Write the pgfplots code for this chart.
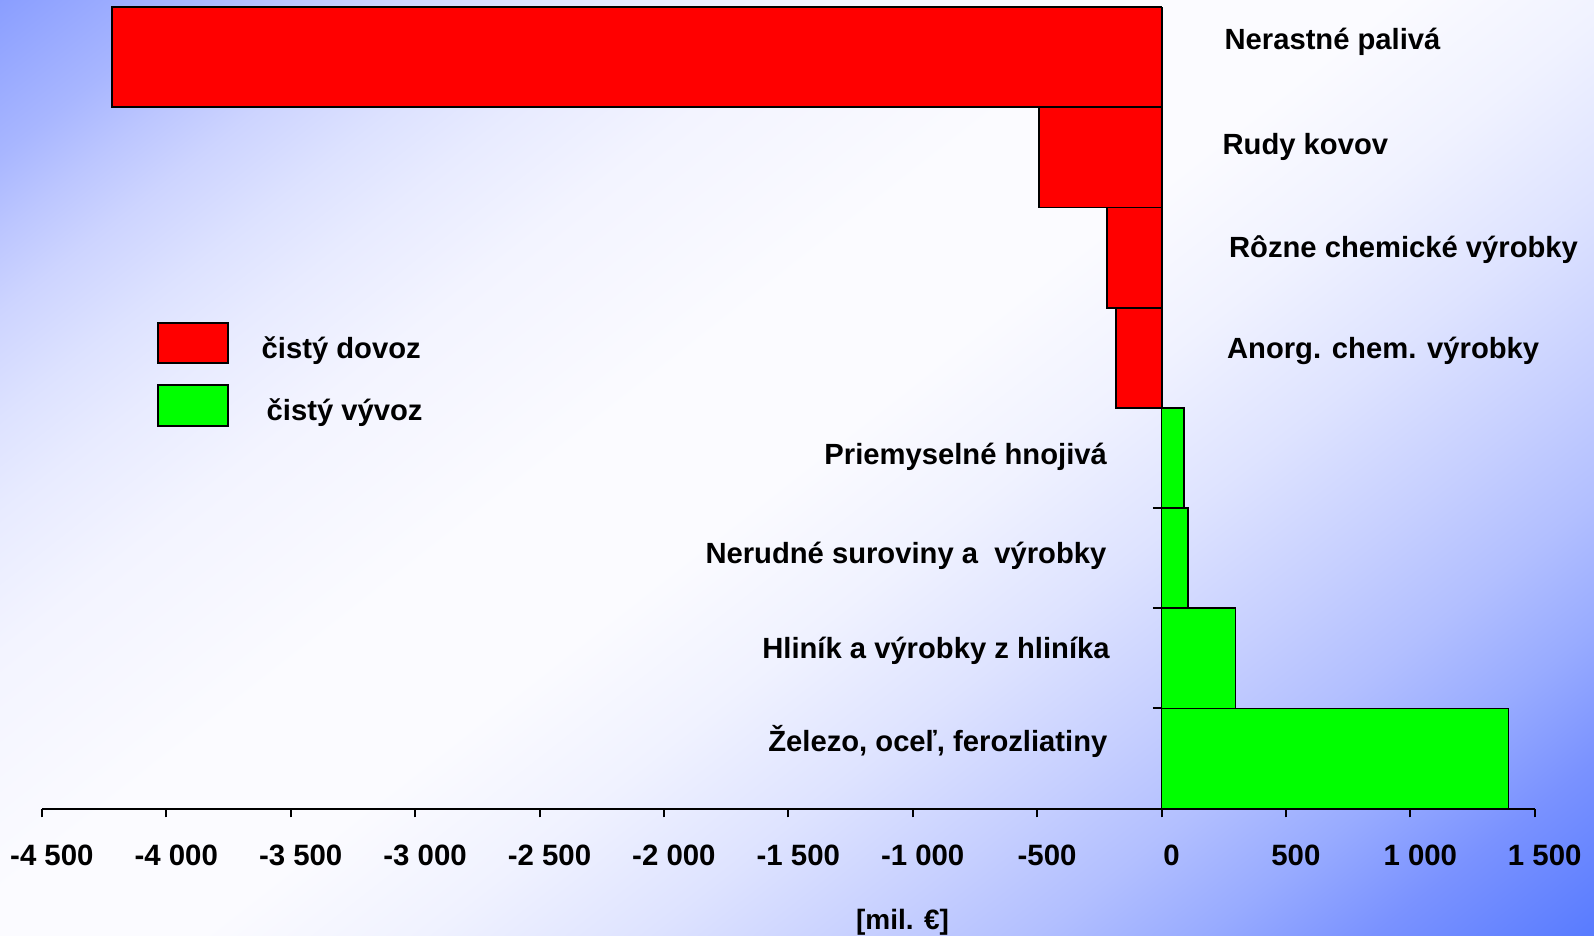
\documentclass[border=0pt]{standalone}
\usepackage{fontspec}
\setmainfont{Liberation Sans}
\usepackage{graphicx}
\usepackage{pgfplots}
\pgfplotsset{compat=1.18}
\definecolor{g0}{RGB}{138,158,255}
\definecolor{g1}{RGB}{168,182,255}
\definecolor{g2}{RGB}{188,198,255}
\definecolor{g3}{RGB}{205,212,255}
\definecolor{g4}{RGB}{221,226,255}
\definecolor{g5}{RGB}{232,235,255}
\definecolor{g6}{RGB}{243,244,255}
\definecolor{g7}{RGB}{251,251,255}
\definecolor{g8}{RGB}{240,242,255}
\definecolor{g9}{RGB}{222,227,255}
\definecolor{g10}{RGB}{198,207,255}
\definecolor{g11}{RGB}{178,191,255}
\definecolor{g12}{RGB}{152,171,255}
\definecolor{g13}{RGB}{122,146,255}
\definecolor{g14}{RGB}{88,123,255}
\pgfdeclareverticalshading{bgshade}{100bp}{color(0bp)=(g14); color(25bp)=(g14); color(29bp)=(g13); color(32bp)=(g12); color(35bp)=(g11); color(38bp)=(g10); color(42bp)=(g9); color(46bp)=(g8); color(50bp)=(g7); color(54.4bp)=(g7); color(60bp)=(g6); color(63.2bp)=(g5); color(65.4bp)=(g4); color(67.85bp)=(g3); color(69.65bp)=(g2); color(71.45bp)=(g1); color(75bp)=(g0); color(100bp)=(g0)}
\definecolor{barred}{RGB}{255,0,0}
\definecolor{bargreen}{RGB}{0,255,0}
\newcommand\f{\fontsize{14.6pt}{17.5pt}\selectfont\bfseries}
\newcommand\ft{\fontsize{14.7pt}{17.6pt}\selectfont\bfseries}
\newcommand\fl{\fontsize{14pt}{16.8pt}\selectfont\bfseries}
\begin{document}
\begin{tikzpicture}
\path[use as bounding box] (0,0) rectangle (797pt,468pt);
\begin{scope}
\clip (0,0) rectangle (797pt,468pt);
\begin{scope}[transform canvas={shift={(398.5pt,234pt)}, rotate=38}]
\shade[shading=bgshade] (-900pt,-429.75pt) rectangle (900pt,429.75pt);
\end{scope}
\end{scope}
\clip (0,0) rectangle (797pt,468pt);
\begin{axis}[
  at={(20.95pt,63.65pt)}, anchor=south west,
  scale only axis, width=746.4pt, height=400.85pt,
  xmin=-4500, xmax=1500, ymin=0.5, ymax=8.5,
  enlargelimits=false,
  axis x line=bottom, axis y line=center,
  axis line style={-, line width=1pt, black},
  xtick={-4500,-4000,...,1500},
  xticklabels={-4 500,-4 000,-3 500,-3 000,-2 500,-2 000,-1 500,-1 000,-500,0,500,1 000,1 500},
  xtick align=outside, major tick length=4.3pt,
  tick style={line width=1pt, black},
  xticklabel style={font=\ft, anchor=base, yshift=-23.9pt, xshift=5pt},
  ytick={1.5,2.5,3.5}, yticklabels={},
  ytick align=outside,
  xlabel={[mil. €]},
  xlabel style={font=\fl, at={(axis description cs:0.5765,-0.1501)}, anchor=base},
  xbar, bar width=1, bar shift=0pt,
  clip=false,
  legend style={at={(axis description cs:0.0769,0.6075)}, anchor=north west,
    draw=none, fill=none, inner sep=0pt, outer sep=0pt,
    row sep=10pt, column sep=16.2pt, font=\f,
    nodes={inner sep=0pt, outer sep=0pt}},
  legend cell align=left,
  legend image code/.code={\draw[#1, line width=1pt, draw=black] (0pt,-7.15pt) rectangle (35.3pt,13.15pt);},
]
\addplot[fill=barred, draw=black, line width=0.9pt] coordinates {(-4217,8) (-492,7) (-218,6) (-182,5)};
\addlegendentry{čistý dovoz}
\addplot[fill=bargreen, draw=black, line width=0.9pt] coordinates {(92,4) (108,3) (297,2) (1395,1)};
\addlegendentry{\hspace{2.5pt}čistý vývoz}
\node[anchor=base west, font=\f, inner sep=0pt] at (axis cs:252,8.079) {Nerastné palivá};
\node[anchor=base west, font=\f, inner sep=0pt] at (axis cs:244,7.024) {Rudy kovov};
\node[anchor=base west, font=\f, inner sep=0pt] at (axis cs:270,6.003) {Rôzne chemické výrobky};
\node[anchor=base west, font=\f, inner sep=0pt] at (axis cs:262,4.995) {Anorg. chem. výrobky};
\node[anchor=base east, font=\f, inner sep=0pt] at (axis cs:-218,3.930) {Priemyselné hnojivá};
\node[anchor=base east, font=\f, inner sep=0pt] at (axis cs:-220,2.949) {Nerudné suroviny a~~výrobky};
\node[anchor=base east, font=\f, inner sep=0pt] at (axis cs:-207,2.001) {Hliník a výrobky z hliníka};
\node[anchor=base east, font=\f, inner sep=0pt] at (axis cs:-216,1.069) {Železo, oceľ, ferozliatiny};
\end{axis}
\end{tikzpicture}
\end{document}
